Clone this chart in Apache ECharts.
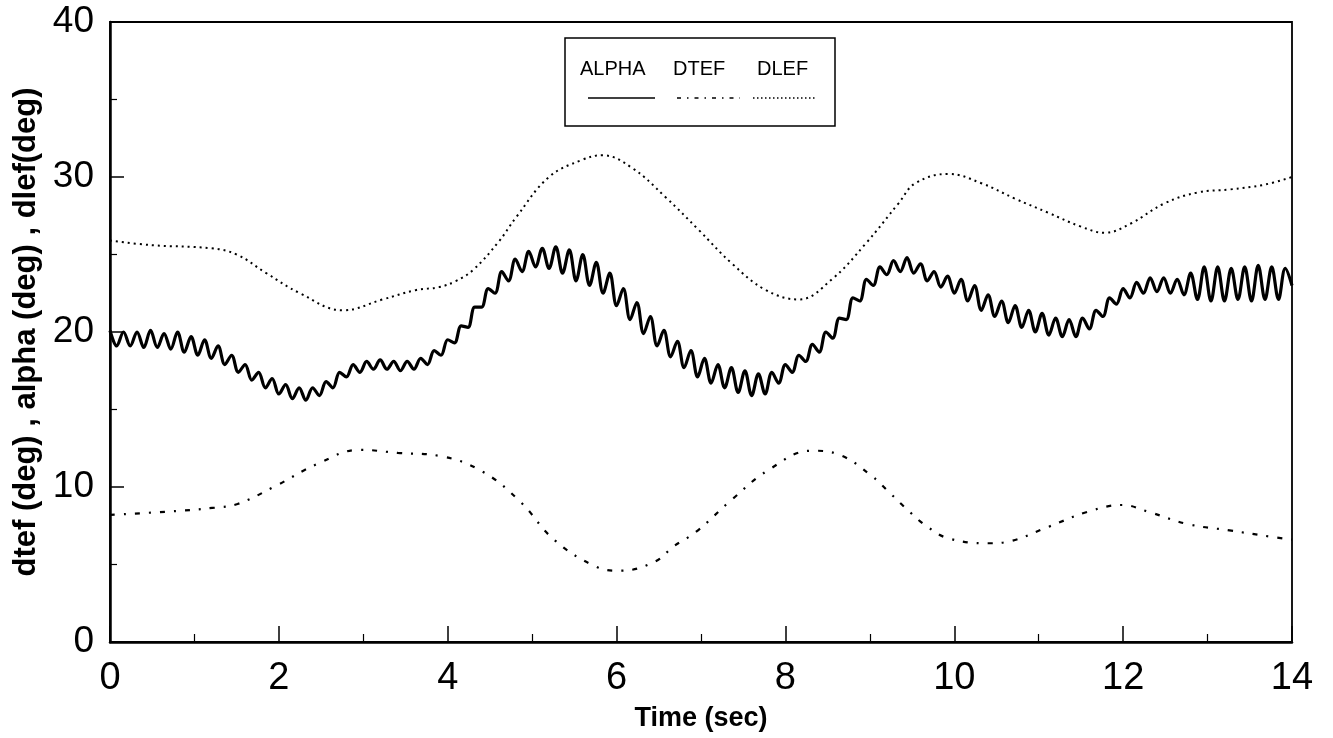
<!DOCTYPE html>
<html>
<head>
<meta charset="utf-8">
<script src="https://cdn.jsdelivr.net/npm/echarts@6/dist/echarts.min.js"></script>
<style>
  html, body { margin: 0; padding: 0; background: #fff; }
  #main { width: 1333px; height: 738px; }
</style>
</head>
<body>
<div id="main"></div>
<script>
// alpha sampled every 0.08 s from 0 to 14 s
var alphaStep = 0.08;
var alphaVals = [
  20.1, 19.1, 20.0, 19.1, 20.0, 19.0, 20.1, 19.0, 19.9, 18.9,
  20.0, 18.7, 19.7, 18.5, 19.5, 18.3, 19.1, 17.9, 18.5, 17.4,
  17.9, 16.9, 17.4, 16.4, 17.0, 16.0, 16.6, 15.7, 16.4, 15.6,
  16.4, 15.9, 16.8, 16.4, 17.4, 17.1, 17.9, 17.4, 18.1, 17.6,
  18.2, 17.6, 18.1, 17.5, 18.1, 17.6, 18.3, 17.9, 18.8, 18.5,
  19.5, 19.3, 20.4, 20.3, 21.6, 21.6, 22.8, 22.5, 23.9, 23.3,
  24.7, 23.9, 25.2, 24.2, 25.4, 24.1, 25.5, 23.8, 25.3, 23.3,
  25.0, 23.0, 24.5, 22.5, 23.8, 21.7, 22.8, 20.8, 21.9, 19.9,
  21.0, 19.1, 20.1, 18.4, 19.4, 17.7, 18.8, 17.1, 18.3, 16.7,
  17.9, 16.4, 17.7, 16.1, 17.5, 15.9, 17.3, 16.0, 17.4, 16.7,
  17.9, 17.4, 18.5, 18.1, 19.2, 18.7, 20.0, 19.6, 20.9, 20.8,
  22.2, 22.0, 23.4, 23.0, 24.2, 23.7, 24.6, 23.9, 24.8, 23.8,
  24.4, 23.3, 23.9, 22.9, 23.6, 22.5, 23.4, 22.0, 23.0, 21.4,
  22.4, 21.0, 22.0, 20.6, 21.7, 20.3, 21.4, 20.0, 21.2, 19.8,
  20.9, 19.7, 20.8, 19.7, 20.9, 20.2, 21.4, 21.0, 22.2, 21.8,
  22.8, 22.2, 23.2, 22.5, 23.5, 22.6, 23.5, 22.5, 23.4, 22.4,
  23.8, 22.1, 24.2, 22.0, 24.2, 22.0, 24.1, 22.1, 24.2, 22.0,
  24.3, 22.1, 24.2, 22.1, 24.1, 23.0
];

// dtef, dash-dot
var dtefT = [0, 0.79, 1.24, 1.51, 1.96, 2.46, 2.96, 3.41, 3.91, 4.41, 4.86, 5.26, 5.76, 6.05, 6.46, 6.67, 6.94, 7.36, 7.8, 8.31, 8.65, 9.01, 9.24, 9.47, 9.68, 9.93, 10.4, 10.66, 11.12, 11.58, 11.99, 12.3, 12.77, 13.26, 13.74, 14];
var dtefV = [8.2, 8.45, 8.67, 8.9, 10.06, 11.5, 12.4, 12.2, 12.0, 11.0, 9.05, 6.6, 4.86, 4.6, 5.2, 6.15, 7.1, 9.16, 11.1, 12.34, 12.06, 10.77, 9.6, 8.4, 7.44, 6.69, 6.37, 6.5, 7.44, 8.4, 8.84, 8.4, 7.6, 7.2, 6.8, 6.6];

// dlef, dotted
var dlefT = [0, 0.5, 1.2, 1.5, 1.85, 2.25, 2.76, 3.23, 3.62, 3.9, 4.1, 4.3, 4.6, 4.81, 5.2, 5.59, 5.83, 6.18, 6.58, 6.97, 7.37, 7.77, 8.16, 8.55, 8.95, 9.34, 9.54, 9.93, 10.32, 10.72, 11.11, 11.5, 11.78, 12.09, 12.49, 12.88, 13.27, 13.67, 14];
var dlefV = [25.9, 25.6, 25.4, 25.0, 23.8, 22.5, 21.4, 22.1, 22.7, 22.9, 23.3, 24.0, 25.8, 27.4, 30.0, 31.1, 31.4, 30.6, 28.7, 26.6, 24.4, 22.7, 22.1, 23.4, 25.7, 28.3, 29.6, 30.2, 29.6, 28.6, 27.7, 26.8, 26.4, 27.0, 28.3, 29.0, 29.2, 29.5, 30.0];

var legendNames = ['ALPHA', 'DTEF', 'DLEF'];

var zip = function (ts, vs) {
    return ts.map(function (t, i) { return [t, vs[i]]; });
};
var alphaData = alphaVals.map(function (v, i) { return [+(i * alphaStep).toFixed(2), v]; });

var font = '"Liberation Sans", Arial, sans-serif';

var chart = echarts.init(document.getElementById('main'), null, { renderer: 'canvas' });
chart.setOption({
    animation: false,
    backgroundColor: '#fff',
    grid: {
        left: 110, right: 41, top: 22, bottom: 96,
        show: true, borderColor: '#000', borderWidth: 1.8
    },
    xAxis: {
        type: 'value', min: 0, max: 14, interval: 2,
        name: 'Time (sec)', nameLocation: 'middle', nameGap: 63,
        nameTextStyle: { fontFamily: font, fontWeight: 'bold', fontSize: 27, color: '#000' },
        axisLine: { lineStyle: { color: '#000', width: 2.5 } },
        axisTick: { inside: true, length: 16, lineStyle: { color: '#000', width: 1.5 } },
        minorTick: { show: true, splitNumber: 2, length: 8, lineStyle: { color: '#000', width: 1.2 } },
        axisLabel: { fontFamily: font, fontSize: 38, color: '#000', margin: 18 },
        splitLine: { show: false }
    },
    yAxis: {
        type: 'value', min: 0, max: 40, interval: 10,
        name: 'dtef (deg) , alpha (deg) , dlef(deg)', nameLocation: 'middle', nameGap: 64,
        nameTextStyle: { fontFamily: font, fontWeight: 'bold', fontSize: 31, color: '#000' },
        axisLine: { lineStyle: { color: '#000', width: 2.5 } },
        axisTick: { inside: true, length: 14, lineStyle: { color: '#000', width: 1.5 } },
        minorTick: { show: true, splitNumber: 2, length: 7, lineStyle: { color: '#000', width: 1.2 } },
        axisLabel: { fontFamily: font, fontSize: 37, color: '#000', margin: 16 },
        splitLine: { show: false }
    },
    series: [{
        name: 'ALPHA', type: 'line', showSymbol: false, smooth: 0.35,
        data: alphaData,
        lineStyle: { color: '#000', width: 3.2 }
    }, {
        name: 'DTEF', type: 'line', showSymbol: false, smooth: 0.4,
        data: zip(dtefT, dtefV),
        lineStyle: { color: '#000', width: 2.2, type: [5, 9, 2, 9] }
    }, {
        name: 'DLEF', type: 'line', showSymbol: false, smooth: 0.4,
        data: zip(dlefT, dlefV),
        lineStyle: { color: '#000', width: 2, type: [2, 4] }
    }],
    graphic: [
        { type: 'rect', shape: { x: 565, y: 38, width: 270, height: 88 },
          style: { fill: '#fff', stroke: '#000', lineWidth: 1.5 } },
        { type: 'text', x: 580, y: 69, style: { text: legendNames[0], font: '20px ' + font, fill: '#000', verticalAlign: 'middle' } },
        { type: 'text', x: 673, y: 69, style: { text: legendNames[1], font: '20px ' + font, fill: '#000', verticalAlign: 'middle' } },
        { type: 'text', x: 757, y: 69, style: { text: legendNames[2], font: '20px ' + font, fill: '#000', verticalAlign: 'middle' } },
        { type: 'line', shape: { x1: 588, y1: 98, x2: 655, y2: 98 }, style: { stroke: '#000', lineWidth: 1.5 } },
        { type: 'line', shape: { x1: 677, y1: 98, x2: 740, y2: 98 }, style: { stroke: '#000', lineWidth: 1.5, lineDash: [4, 6, 1.5, 6] } },
        { type: 'line', shape: { x1: 753, y1: 98, x2: 817, y2: 98 }, style: { stroke: '#000', lineWidth: 1.5, lineDash: [1.5, 2.5] } }
    ]
});
</script>
</body>
</html>
